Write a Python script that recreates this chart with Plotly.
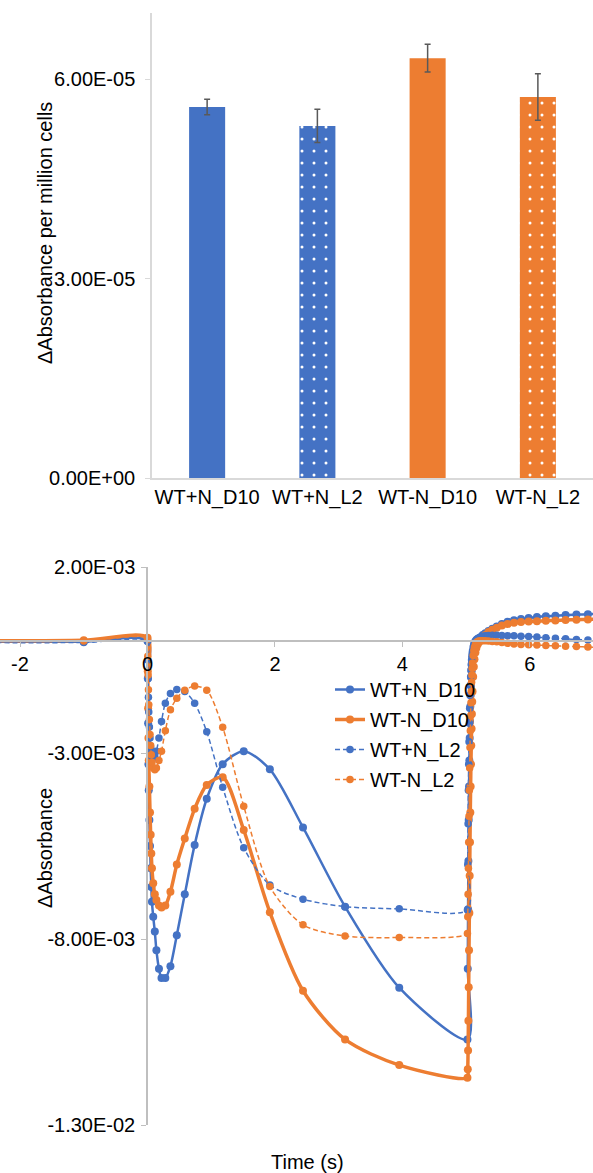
import plotly.graph_objects as go

W, H = 593, 1173
BLUE = "#4472C4"
ORANGE = "#ED7D31"
FONT = "Liberation Sans, Arial, Helvetica, sans-serif"

# ---------------- bar chart data ----------------
bar_categories = ["WT+N_D10", "WT+N_L2", "WT-N_D10", "WT-N_L2"]
bar_values = [5.585e-5, 5.30e-5, 6.32e-5, 5.735e-5]
bar_errors = [0.115e-5, 0.25e-5, 0.21e-5, 0.35e-5]
bar_colors = [BLUE, BLUE, ORANGE, ORANGE]
bar_patterns = ["", ".", "", "."]
bar_ticks = [0, 3e-5, 6e-5]
bar_ticktext = ["0.00E+00", "3.00E-05", "6.00E-05"]

# ---------------- time-course data (ΔAbsorbance in units of 1e-3) ----------------
t_pre = [-3.0, -1.0, 0.0]
t_on = [0.005, 0.01, 0.015, 0.02, 0.03, 0.04, 0.05, 0.06, 0.07, 0.09, 0.115, 0.14,
        0.18, 0.22, 0.28, 0.36, 0.46, 0.585, 0.74, 0.93, 1.18, 1.51, 1.92, 2.44,
        3.10, 3.95, 5.02]
t_off = [5.025, 5.03, 5.035, 5.04, 5.045, 5.05, 5.055, 5.06, 5.065, 5.07, 5.075,
         5.08, 5.085, 5.09, 5.095, 5.10, 5.11, 5.12, 5.13, 5.145, 5.16, 5.18, 5.20,
         5.23, 5.26, 5.30, 5.35, 5.41, 5.48, 5.56, 5.65, 5.75, 5.86, 5.98, 6.11,
         6.25, 6.40, 6.56, 6.73, 6.91, 7.10]

wtpn_d10 = ([-0.01, -0.01, 0.02] +
            [-1.0, -2.2, -3.3, -4.0, -4.8, -5.5, -6.1, -6.6, -7.0, -7.4, -7.8, -8.3,
             -8.8, -9.05, -9.05, -8.73, -7.9, -6.8, -5.47, -4.23, -3.3, -2.95, -3.44,
             -5.0, -7.13, -9.31, -10.7] +
            [-8.8, -7.2, -5.9, -4.8, -3.9, -3.2, -2.6, -2.15, -1.75, -1.45, -1.2,
             -0.97, -0.8, -0.65, -0.53, -0.43, -0.28, -0.17, -0.09, -0.02, 0.02, 0.05,
             0.08, 0.12, 0.17, 0.22, 0.28, 0.34, 0.40, 0.47, 0.53, 0.57, 0.60, 0.63,
             0.655, 0.675, 0.69, 0.71, 0.72, 0.73, 0.74])

wtmn_d10 = ([0.02, 0.03, 0.10] +
            [-0.8, -1.8, -2.6, -3.2, -3.9, -4.6, -5.2, -5.7, -6.1, -6.5, -6.8, -6.95,
             -7.1, -7.15, -7.1, -6.73, -6.0, -5.3, -4.5, -3.86, -3.65, -5.07, -7.28,
             -9.39, -10.7, -11.39, -11.73] +
            [-11.5, -11.0, -10.2, -9.3, -8.3, -7.3, -6.3, -5.4, -4.6, -3.9, -3.3,
             -2.8, -2.35, -1.95, -1.62, -1.35, -0.95, -0.68, -0.48, -0.30, -0.18,
             -0.08, -0.02, 0.05, 0.10, 0.17, 0.25, 0.31, 0.37, 0.43, 0.47, 0.50,
             0.52, 0.535, 0.545, 0.555, 0.565, 0.575, 0.585, 0.59, 0.60])

wtpn_l2 = ([-0.03, -0.03, 0.0] +
           [-0.5, -1.0, -1.5, -1.9, -2.3, -2.6, -2.85, -3.0, -3.1, -3.15, -3.1, -2.95,
            -2.6, -2.15, -1.66, -1.40, -1.29, -1.35, -1.66, -2.43, -3.92, -5.55, -6.55,
            -6.93, -7.13, -7.19, -7.22] +
           [-6.0, -4.9, -4.0, -3.3, -2.7, -2.2, -1.8, -1.45, -1.18, -0.95, -0.77,
            -0.62, -0.5, -0.4, -0.32, -0.25, -0.15, -0.08, -0.03, 0.02, 0.05, 0.08,
            0.10, 0.12, 0.14, 0.15, 0.16, 0.165, 0.165, 0.16, 0.155, 0.15, 0.14,
            0.13, 0.115, 0.10, 0.085, 0.07, 0.05, 0.035, 0.02])

wtmn_l2 = ([0.0, 0.01, 0.08] +
           [-0.4, -0.9, -1.3, -1.7, -2.1, -2.5, -2.8, -3.05, -3.25, -3.4, -3.45, -3.4,
            -3.2, -2.95, -2.4, -1.84, -1.53, -1.31, -1.20, -1.31, -2.31, -4.43, -6.59,
            -7.62, -7.92, -7.96, -7.85] +
           [-7.4, -6.8, -6.1, -5.4, -4.7, -4.0, -3.4, -2.85, -2.4, -2.0, -1.65,
            -1.35, -1.1, -0.9, -0.72, -0.58, -0.38, -0.25, -0.16, -0.08, -0.03, 0.0,
            0.01, 0.02, 0.02, 0.02, 0.01, 0.0, -0.01, -0.03, -0.05, -0.07, -0.08,
            -0.09, -0.10, -0.11, -0.12, -0.13, -0.14, -0.15, -0.16])

time_s = t_pre + t_on + t_off
line_ticks = [2e-3, -3e-3, -8e-3, -1.3e-2]
line_ticktext = ["2.00E-03", "-3.00E-03", "-8.00E-03", "-1.30E-02"]
x_ticks = [-2, 0, 2, 4, 6]

series = [
    ("WT+N_D10", wtpn_d10, BLUE, 2.5, "solid", 8),
    ("WT-N_D10", wtmn_d10, ORANGE, 3.5, "solid", 8),
    ("WT+N_L2", wtpn_l2, BLUE, 1.5, "5px,3px", 7.5),
    ("WT-N_L2", wtmn_l2, ORANGE, 1.5, "5px,3px", 7.5),
]

fig = go.Figure()

# one bar trace per category (overlay mode keeps each bar centred on its category)
for cat, val, err, col, pat in zip(bar_categories, bar_values, bar_errors,
                                   bar_colors, bar_patterns):
    fig.add_trace(go.Bar(
        x=[cat], y=[val],
        marker=dict(color=col, line=dict(width=0),
                    pattern=dict(shape=pat, fgcolor="#FFFFFF", fgopacity=1,
                                 size=12, solidity=0.05, fillmode="overlay")),
        error_y=dict(type="data", array=[err], color="#595959", thickness=1.5, width=3),
        xaxis="x", yaxis="y", showlegend=False,
    ))

for name, vals, col, lw, dash, ms in series:
    fig.add_trace(go.Scatter(
        x=time_s, y=[v * 1e-3 for v in vals], name=name, mode="lines+markers",
        line=dict(color=col, width=lw, dash=dash, shape="spline", smoothing=0.8),
        marker=dict(color=col, size=ms),
        xaxis="x2", yaxis="y2", legendgroup=name,
    ))

def px_x(p):
    return p / W

def px_y(p):
    return 1 - p / H

axcol = "#D9D9D9"
fig.update_layout(
    width=W, height=H, margin=dict(l=0, r=0, t=0, b=0, autoexpand=False),
    paper_bgcolor="white", plot_bgcolor="white",
    font=dict(family=FONT, size=20, color="black"),
    barmode="overlay", bargap=0.673,
    xaxis=dict(domain=[px_x(152), 1], anchor="y", showgrid=False, zeroline=False,
               showline=True, linecolor=axcol, linewidth=1.5, ticks="",
               tickfont=dict(size=20), automargin=False,
               categoryorder="array", categoryarray=bar_categories),
    yaxis=dict(domain=[px_y(478), px_y(13)], anchor="x", range=[0, 7e-5],
               showgrid=False, zeroline=False, showline=True, linecolor=axcol,
               linewidth=1.5, ticks="outside", ticklen=5, tickcolor=axcol,
               tickvals=bar_ticks, ticktext=bar_ticktext, ticklabelstandoff=6,
               automargin=False),
    xaxis2=dict(domain=[0, 1], anchor="free", position=px_y(641.4),
                range=[-2.314, 6.99], showgrid=False, zeroline=False, showline=True,
                linecolor="#BFBFBF", linewidth=1.5, ticks="outside", ticklen=5,
                tickcolor="#BFBFBF", tickvals=x_ticks,
                ticktext=[str(v) for v in x_ticks], automargin=False),
    yaxis2=dict(domain=[px_y(1125), px_y(567)], anchor="free", position=px_x(147),
                range=[-1.3e-2, 2e-3], showgrid=False, zeroline=False, showline=True,
                linecolor="#BFBFBF", linewidth=1.5, ticks="outside", ticklen=5,
                tickcolor="#BFBFBF", tickvals=line_ticks, ticktext=line_ticktext,
                ticklabelstandoff=2, automargin=False),
    legend=dict(x=px_x(330), y=px_y(670), xanchor="left", yanchor="top",
                bgcolor="rgba(0,0,0,0)", font=dict(size=20), tracegroupgap=1),
    annotations=[
        dict(text="ΔAbsorbance per million cells", x=px_x(45), y=px_y(233),
             xref="paper", yref="paper", xanchor="center", yanchor="middle",
             showarrow=False, textangle=-90, font=dict(size=20)),
        dict(text="ΔAbsorbance", x=px_x(45), y=px_y(848), xref="paper", yref="paper",
             xanchor="center", yanchor="middle",
             showarrow=False, textangle=-90, font=dict(size=20)),
        dict(text="Time (s)", x=px_x(307), y=px_y(1162), xref="paper", yref="paper",
             xanchor="center", yanchor="middle", showarrow=False, font=dict(size=20)),
    ],
)

fig.write_html("out.html", config={"displayModeBar": False},
               post_script="document.body.style.margin='0';document.body.style.padding='0';")
